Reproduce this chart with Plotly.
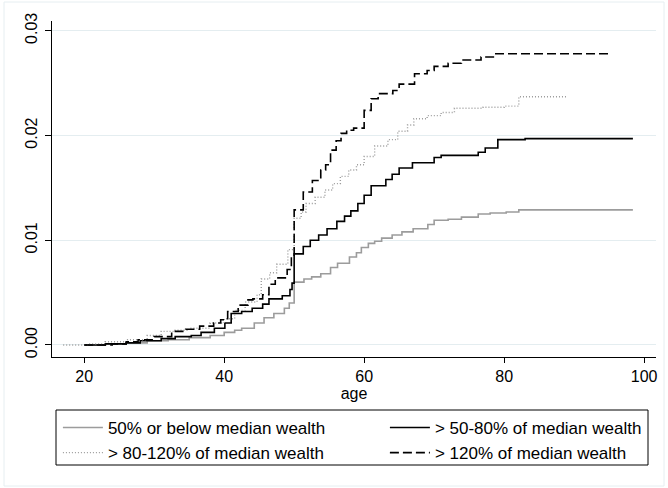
import plotly.graph_objects as go

# ---- data ----
A_age = [20, 23, 26, 29, 32, 35, 38, 40, 41.5, 42.5, 44.3, 45.7, 47.1, 48.6, 49.3, 50, 51.4, 52.5, 53.8, 55.2,
         56.2, 57.9, 58.9, 59.6, 60.6, 61.5, 62.5, 64, 65.4, 67, 69.1, 70, 72, 73.9, 76.3, 78, 80.3, 82.1, 98.4]
A_val = [0.0000, 0.0001, 0.0002, 0.0004, 0.0005, 0.0007, 0.0009, 0.0012, 0.0014, 0.0016, 0.0021, 0.0026, 0.0030,
         0.0035, 0.0040, 0.0060, 0.0063, 0.0065, 0.0068, 0.0074, 0.0078, 0.0084, 0.0088, 0.0093, 0.0097, 0.0099,
         0.0102, 0.0105, 0.0108, 0.0111, 0.0115, 0.0119, 0.0120, 0.0122, 0.0125, 0.0126, 0.0127, 0.0129, 0.0129]

B_age = [20, 23, 26, 28, 31, 33, 35.3, 36.7, 38.6, 40.1, 41, 42.5, 44, 45.5, 46.4, 48.3, 49.4, 49.7, 50, 51.3,
         52.3, 53.5, 54.7, 56.1, 57.2, 58.1, 59.1, 60, 61, 63.1, 64, 65, 66.9, 70, 71, 76.3, 77.3, 79.1, 83, 98.4]
B_val = [0.0000, 0.0001, 0.0002, 0.0004, 0.0006, 0.0008, 0.0009, 0.0012, 0.0016, 0.0021, 0.0030, 0.0032, 0.0035,
         0.0039, 0.0044, 0.0047, 0.0053, 0.0059, 0.0087, 0.0094, 0.0100, 0.0105, 0.0111, 0.0118, 0.0123, 0.0128,
         0.0135, 0.0143, 0.0152, 0.0158, 0.0163, 0.0169, 0.0174, 0.0179, 0.0181, 0.0184, 0.0188, 0.0196, 0.0197,
         0.0197]

C_age = [17, 20.7, 23, 26.2, 29, 31, 33, 35, 38, 40, 41.5, 43, 44.7, 45.3, 46.5, 47.5, 49.1, 50, 51, 51.7, 53,
         54.4, 55.5, 56.6, 57.8, 58.9, 60, 61.5, 63.4, 64.8, 66.2, 67.1, 69, 71, 72.9, 77, 80, 82.1, 89]
C_val = [0.0000, 0.0001, 0.0003, 0.0005, 0.0009, 0.0013, 0.0014, 0.0016, 0.0021, 0.0025, 0.0033, 0.0041, 0.0048,
         0.0063, 0.0069, 0.0077, 0.0091, 0.0121, 0.0127, 0.0135, 0.0141, 0.0148, 0.0154, 0.0161, 0.0167, 0.0172,
         0.0180, 0.0190, 0.0196, 0.0204, 0.0210, 0.0216, 0.0219, 0.0222, 0.0226, 0.0227, 0.0228, 0.0237, 0.0237]

D_age = [20, 24, 26, 27.7, 30, 32.5, 34.5, 36.5, 38.5, 39.5, 40.5, 42, 43.4, 44.1, 45.5, 46.4, 47.3, 49, 49.6,
         50, 51.3, 52.6, 53.8, 54.5, 55.2, 56, 56.7, 57.5, 58.5, 60, 61, 62, 64.1, 65, 67.2, 69, 70, 72, 73.9,
         76.7, 78.6, 95.4]
D_val = [0.0000, 0.0001, 0.0003, 0.0005, 0.0008, 0.0013, 0.0015, 0.0018, 0.0021, 0.0024, 0.0032, 0.0038, 0.0043,
         0.0044, 0.0048, 0.0058, 0.0064, 0.0072, 0.0085, 0.0129, 0.0146, 0.0157, 0.0167, 0.0172, 0.0186, 0.0195,
         0.0202, 0.0205, 0.0207, 0.0224, 0.0235, 0.0240, 0.0243, 0.0249, 0.0259, 0.0262, 0.0266, 0.0269, 0.0272,
         0.0275, 0.0278, 0.0278]

names = ["50% or below median wealth", "> 50-80% of median wealth",
         "> 80-120% of median wealth", "> 120% of median wealth"]
x_ticks = [20, 40, 60, 80, 100]
y_ticks = [0.00, 0.01, 0.02, 0.03]

FONT = "Liberation Sans, Arial, sans-serif"
GRID = "#e4edf0"

fig = go.Figure()
styles = [
    dict(color="#9c9c9c", width=1.6, dash="solid"),
    dict(color="#000000", width=1.6, dash="solid"),
    dict(color="#9c9c9c", width=1.4, dash="1px,2px"),
    dict(color="#000000", width=1.6, dash="9px,4px"),
]
for xs, ys, nm, st in zip([A_age, B_age, C_age, D_age], [A_val, B_val, C_val, D_val], names, styles):
    fig.add_trace(go.Scatter(x=xs, y=ys, name=nm, mode="lines", line_shape="hv", line=st))

W, H = 668, 488
L, R, T, B = 52, 12, 21, 131
pw, ph = W - L - R, H - T - B


def px_x(p):
    return (p - L) / pw


def px_y(p):
    return (T + ph - p) / ph


fig.update_layout(
    width=W, height=H,
    margin=dict(l=L, r=R, t=T, b=B, pad=0, autoexpand=False),
    paper_bgcolor="white", plot_bgcolor="white",
    font=dict(family=FONT, size=16, color="black"),
    showlegend=True,
    legend=dict(
        orientation="h", x=px_x(51.9), xanchor="left", y=px_y(404), yanchor="top",
        borderwidth=6, bordercolor="rgba(0,0,0,0)", bgcolor="rgba(0,0,0,0)",
        entrywidth=272, entrywidthmode="pixels", itemwidth=40,
        font=dict(family=FONT, size=17), traceorder="normal",
    ),
    xaxis=dict(
        range=[15.4, 101.7], tickvals=x_ticks, ticks="outside", ticklen=5, tickcolor="black",
        showline=True, linecolor="black", linewidth=1, showgrid=False, zeroline=False, automargin=False,
        title=dict(text="age", standoff=2, font=dict(size=16)), tickfont=dict(size=16),
    ),
    yaxis=dict(
        range=[-0.00115, 0.03093], tickvals=y_ticks, tickformat=".2f", ticks="outside", ticklen=6,
        tickcolor="black", showline=True, linecolor="black", linewidth=1, automargin=False,
        showgrid=True, gridcolor=GRID, gridwidth=1, zeroline=False, tickangle=-90, tickfont=dict(size=16),
        ticklabelstandoff=2,
    ),
)

# light outer frame of the graph region
fig.add_shape(type="rect", xref="paper", yref="paper",
              x0=px_x(4), x1=px_x(664), y0=px_y(486), y1=px_y(2),
              line=dict(color="#e6eef1", width=1), fillcolor="rgba(0,0,0,0)", layer="below")
# legend frame
fig.add_shape(type="rect", xref="paper", yref="paper",
              x0=px_x(56), x1=px_x(648), y0=px_y(465), y1=px_y(410),
              line=dict(color="black", width=1), fillcolor="rgba(0,0,0,0)", layer="above")

fig.write_html("out.html", config={"displayModeBar": False},
               post_script="document.body.style.margin='0';")
